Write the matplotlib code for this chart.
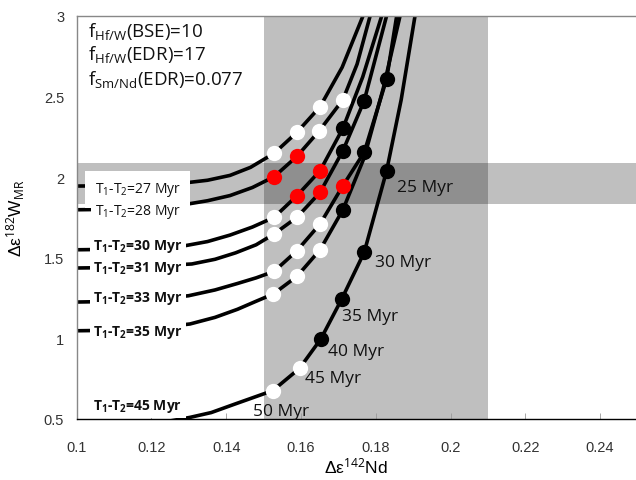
import matplotlib
matplotlib.use("Agg")
import matplotlib.pyplot as plt

plt.rcParams['mathtext.fontset'] = 'custom'
plt.rcParams['mathtext.rm'] = 'Open Sans'
plt.rcParams['mathtext.it'] = 'Open Sans:italic'
plt.rcParams['mathtext.bf'] = 'Open Sans:bold'

# ---- data ----
c27_x = [0.100, 0.110, 0.120, 0.128, 0.135, 0.141, 0.1465, 0.1528, 0.1589, 0.1651, 0.171, 0.1766]
c27_y = [1.944, 1.946, 1.952, 1.961, 1.980, 2.010, 2.060, 2.147, 2.277, 2.436, 2.680, 3.000]
c28_x = [0.100, 0.110, 0.120, 0.128, 0.135, 0.141, 0.147, 0.1528, 0.1589, 0.1649, 0.1712, 0.175, 0.1785]
c28_y = [1.797, 1.800, 1.810, 1.826, 1.853, 1.885, 1.935, 2.002, 2.128, 2.287, 2.479, 2.700, 3.000]
c30_x = [0.100, 0.110, 0.120, 0.128, 0.135, 0.141, 0.147, 0.1528, 0.1589, 0.1651, 0.1712, 0.1765, 0.1816]
c30_y = [1.549, 1.552, 1.560, 1.570, 1.600, 1.640, 1.690, 1.750, 1.884, 2.039, 2.302, 2.620, 3.000]
c31_x = [0.100, 0.110, 0.120, 0.1308, 0.137, 0.1425, 0.148, 0.1528, 0.1589, 0.1651, 0.1712, 0.1769, 0.1829]
c31_y = [1.436, 1.439, 1.447, 1.461, 1.490, 1.530, 1.580, 1.647, 1.750, 1.905, 2.163, 2.473, 3.000]
c33_x = [0.100, 0.110, 0.120, 0.1299, 0.137, 0.143, 0.148, 0.1528, 0.1589, 0.1651, 0.1712, 0.1769, 0.1829, 0.1856]
c33_y = [1.225, 1.229, 1.240, 1.264, 1.300, 1.340, 1.375, 1.415, 1.543, 1.709, 1.946, 2.153, 2.608, 3.000]
c35_x = [0.100, 0.110, 0.120, 0.1303, 0.137, 0.143, 0.148, 0.1526, 0.1589, 0.1651, 0.1712, 0.1769, 0.1820, 0.1865]
c35_y = [1.047, 1.050, 1.062, 1.089, 1.130, 1.180, 1.230, 1.275, 1.384, 1.549, 1.797, 2.120, 2.550, 3.000]
c45_x = [0.120, 0.125, 0.1303, 0.136, 0.142, 0.1499, 0.1524, 0.1596, 0.1653, 0.1709, 0.1769, 0.1829, 0.1868, 0.1905]
c45_y = [0.470, 0.488, 0.510, 0.540, 0.590, 0.655, 0.675, 0.814, 0.996, 1.244, 1.533, 2.039, 2.480, 3.000]

curve_labels = ["27", "28", "30", "31", "33", "35", "45"]
label_y = [1.944, 1.791, 1.574, 1.442, 1.256, 1.041, 0.582]
label_bold = [False, False, True, True, True, True, True]

white_x = [0.1528, 0.1589, 0.1651, 0.1649, 0.1712, 0.1528, 0.1528, 0.1589,
           0.1528, 0.1589, 0.1651, 0.1526, 0.1589, 0.1651, 0.1524, 0.1596]
white_y = [2.147, 2.277, 2.436, 2.287, 2.479, 1.750, 1.647, 1.750,
           1.415, 1.543, 1.709, 1.275, 1.384, 1.549, 0.675, 0.814]
red_x = [0.1528, 0.1589, 0.1589, 0.1651, 0.1651, 0.1712]
red_y = [2.002, 2.128, 1.884, 2.039, 1.905, 1.946]
black_x = [0.1712, 0.1712, 0.1769, 0.1769, 0.1829, 0.1712, 0.1653, 0.1709, 0.1769, 0.1829]
black_y = [2.302, 2.163, 2.473, 2.153, 2.608, 1.797, 0.996, 1.244, 1.533, 2.039]

time_labels = ["25 Myr", "30 Myr", "35 Myr", "40 Myr", "45 Myr", "50 Myr"]
time_x = [0.1856, 0.1798, 0.1709, 0.1672, 0.1611, 0.1472]
time_y = [1.938, 1.473, 1.136, 0.923, 0.752, 0.551]

band_x = [0.15, 0.21]
band_y = [1.833, 2.087]

xticks = [0.10, 0.12, 0.14, 0.16, 0.18, 0.20, 0.22, 0.24]
xticklabels = ["0.1", "0.12", "0.14", "0.16", "0.18", "0.2", "0.22", "0.24"]
yticks = [0.5, 1.0, 1.5, 2.0, 2.5, 3.0]
yticklabels = ["0.5", "1", "1.5", "2", "2.5", "3"]

# ---- figure ----
fig = plt.figure(figsize=(6.36, 4.81), dpi=100)
ax = fig.add_axes([76.7 / 636, (481 - 420) / 481, (636 - 76.7) / 636, (420 - 16.7) / 481])
ax.set_xlim(0.1, 0.2496)
ax.set_ylim(0.5, 3.0)

ax.axvspan(band_x[0], band_x[1], color='black', alpha=0.25, lw=0, zorder=0)
ax.axhspan(band_y[0], band_y[1], color='black', alpha=0.25, lw=0, zorder=0)

for cx, cy in [(c27_x, c27_y), (c28_x, c28_y), (c30_x, c30_y), (c31_x, c31_y),
               (c33_x, c33_y), (c35_x, c35_y), (c45_x, c45_y)]:
    ax.plot(cx, cy, color='black', lw=2.6, solid_capstyle='butt',
            solid_joinstyle='round', zorder=2)

ms = 11
ax.plot(white_x, white_y, 'o', color='white', ms=ms, mew=0, zorder=4)
ax.plot(red_x, red_y, 'o', color='#ff0000', ms=ms, mew=0, zorder=4)
ax.plot(black_x, black_y, 'o', color='black', ms=ms, mew=0, zorder=4)

for i, (lab, ly, bold) in enumerate(zip(curve_labels, label_y, label_bold)):
    if bold:
        s = r"T$_{\mathbf{1}}$-T$_{\mathbf{2}}$=" + lab + " Myr"
        w = 'bold'
    else:
        s = r"T$_{1}$-T$_{2}$=" + lab + " Myr"
        w = 'normal'
    pad = 7.0 if i == 0 else 2.5
    yy = ly - 0.02 if i == 0 else ly
    t = ax.text(0.1163, yy, s, ha='center', va='center', fontsize=10, fontweight=w,
                family='Open Sans', color='#111111', zorder=5,
                bbox=dict(facecolor='white', edgecolor='none', pad=pad))

for t, tx, ty in zip(time_labels, time_x, time_y):
    ax.text(tx, ty, t, ha='left', va='center', fontsize=12.5, family='Open Sans',
            color='#111111', zorder=5)

ftexts = [r"f$_{\mathrm{Hf/W}}$(BSE)=10", r"f$_{\mathrm{Hf/W}}$(EDR)=17",
          r"f$_{\mathrm{Sm/Nd}}$(EDR)=0.077"]
for i, s in enumerate(ftexts):
    ax.text(0.103, [2.907, 2.763, 2.608][i], s, ha='left', va='center', fontsize=13.5,
            family='Open Sans', color='#111111', zorder=5)

ax.set_xticks(xticks)
ax.set_xticklabels(xticklabels, family='Liberation Sans', fontsize=10.5, color='#333333')
ax.set_yticks(yticks)
ax.set_yticklabels(yticklabels, family='Liberation Sans', fontsize=10.5, color='#333333')
ax.tick_params(axis='x', direction='in', length=4, width=0.6, color='#999999', pad=15)
ax.tick_params(axis='y', direction='in', length=0, pad=9)

ax.spines['right'].set_visible(False)
ax.spines['top'].set_color('#888888')
ax.spines['left'].set_color('#888888')
ax.spines['bottom'].set_color('black')
for s in ['top', 'left', 'bottom']:
    ax.spines[s].set_linewidth(1.0)

ax.set_xlabel("Δε$^{142}$Nd", family='Liberation Sans', fontsize=12.5, labelpad=1)
ax.set_ylabel("Δε$^{182}$W$_{\\mathrm{MR}}$", family='Liberation Sans', fontsize=12.5, labelpad=12)

fig.savefig("out.png", dpi=100)
